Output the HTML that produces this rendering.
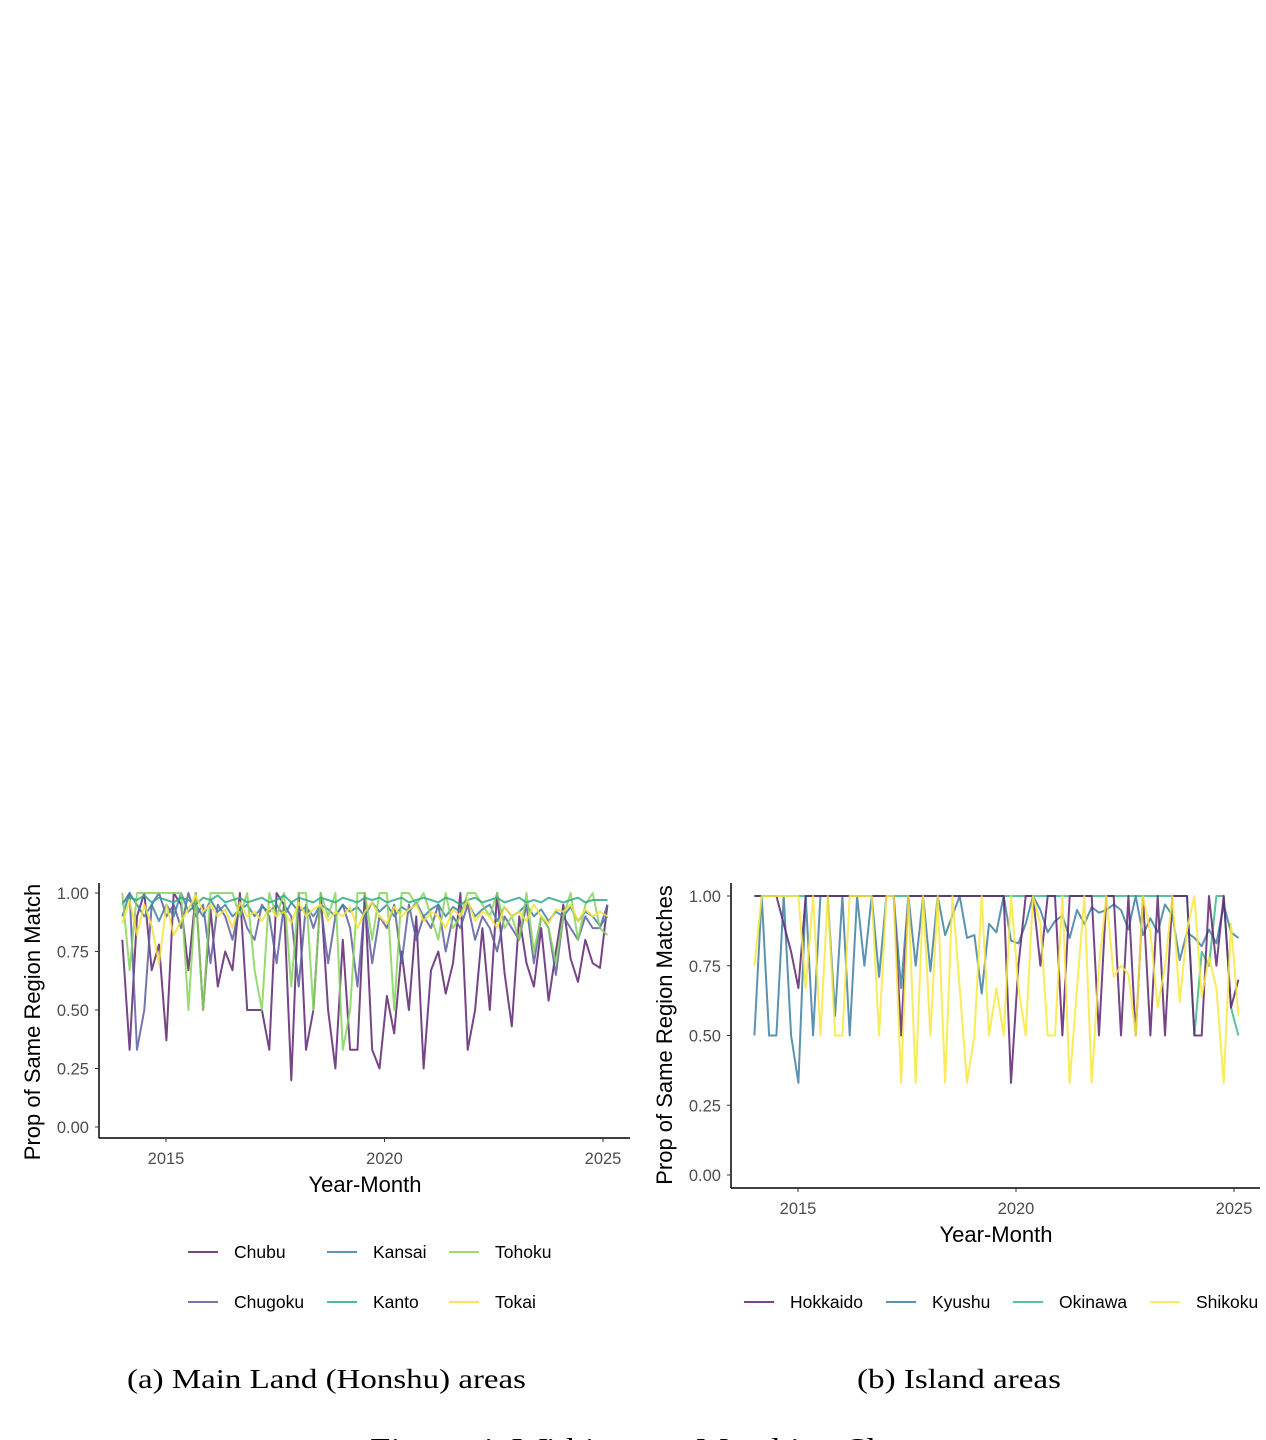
<!DOCTYPE html>
<html><head><meta charset="utf-8"><style>
body{margin:0;background:#fff;width:1266px;height:1440px;overflow:hidden;position:relative;font-family:"Liberation Sans",sans-serif}
svg{position:absolute;left:0;top:0}
</style></head><body>
<svg id="fig" width="1266" height="1440"></svg>
<script>
const NS="http://www.w3.org/2000/svg";
const yearTicks=[2015,2020,2025];
const yTicks=[0,0.25,0.5,0.75,1];
const yTickLabels=["0.00","0.25","0.50","0.75","1.00"];
const startYear=2014.0, endYear=2025.1;
const namesA=["Chubu","Chugoku","Kansai","Kanto","Tohoku","Tokai"];
const chubu=[0.8,0.33,0.9,1,0.67,0.78,0.37,1,0.95,0.67,1,0.5,0.93,0.6,0.75,0.67,1,0.5,0.5,0.5,0.33,1,0.95,0.2,1,0.33,0.5,1,0.5,0.25,0.8,0.33,0.33,1,0.33,0.25,0.56,0.4,0.75,0.5,0.9,0.25,0.67,0.75,0.57,0.7,1,0.33,0.5,0.85,0.5,1,0.66,0.43,0.9,0.7,0.6,0.85,0.54,0.75,0.95,0.72,0.62,0.8,0.7,0.68,0.95];
const chugoku=[0.95,1,0.33,0.5,0.95,1,0.9,0.95,0.85,1,0.9,0.95,0.7,0.95,0.9,0.8,0.95,0.85,0.8,0.95,0.9,0.7,0.95,0.9,0.6,0.95,0.85,0.95,0.7,0.9,0.95,0.85,0.6,0.95,0.7,0.9,0.85,0.95,0.7,0.95,0.8,0.9,0.85,0.95,0.75,0.9,0.85,0.95,0.8,0.9,0.85,0.75,0.9,0.85,0.8,0.95,0.7,0.9,0.85,0.65,0.9,0.85,0.8,0.9,0.85,0.85,0.95];
const kansai=[0.9,1,0.95,0.9,0.95,0.88,0.95,0.9,1,0.92,0.95,0.9,0.97,0.92,0.95,0.9,0.93,0.95,0.9,0.94,0.92,0.95,0.9,0.96,0.92,0.94,0.9,0.95,0.93,0.9,0.95,0.92,0.94,0.9,0.96,0.92,0.95,0.9,0.94,0.92,0.96,0.9,0.93,0.95,0.9,0.94,0.92,0.96,0.9,0.93,0.95,0.88,0.94,0.9,0.92,0.95,0.9,0.93,0.88,0.92,0.9,0.94,0.88,0.92,0.9,0.86,0.9];
const kanto=[0.96,0.98,0.97,0.99,0.96,0.98,0.97,0.96,0.98,0.97,0.95,0.98,0.97,0.99,0.96,0.97,0.98,0.96,0.97,0.98,0.96,0.97,0.99,0.96,0.98,0.97,0.96,0.98,0.97,0.96,0.98,0.97,0.96,0.98,0.97,0.98,0.96,0.97,0.98,0.96,0.97,0.98,0.97,0.96,0.98,0.97,0.95,0.97,0.98,0.96,0.97,0.98,0.96,0.97,0.98,0.96,0.97,0.96,0.98,0.97,0.96,0.97,0.98,0.96,0.97,0.97,0.97];
const tohoku=[1,0.67,1,1,1,1,1,1,1,0.5,1,0.5,1,1,1,1,0.9,1,0.67,0.5,1,0.9,1,0.6,1,1,0.5,1,0.9,1,0.33,0.5,1,1,0.8,1,1,0.5,1,1,0.95,1,0.9,0.8,1,0.85,0.9,1,1,0.95,0.9,1,0.85,0.9,0.8,1,0.75,0.9,0.85,0.7,0.9,1,0.8,0.95,1,0.85,0.82];
const tokai=[0.87,0.97,0.82,0.95,0.86,0.7,0.95,0.82,0.88,0.93,0.99,0.92,0.95,0.9,0.93,0.85,0.96,0.9,0.92,0.88,0.94,0.9,0.92,0.87,0.96,0.9,0.93,0.95,0.88,0.92,0.9,0.94,0.85,0.92,0.96,0.9,0.87,0.94,0.9,0.93,0.95,0.88,0.92,0.9,0.85,0.93,0.9,0.97,0.88,0.92,0.9,0.85,0.94,0.9,0.92,0.88,0.95,0.9,0.87,0.93,0.92,0.95,0.88,0.93,0.9,0.92,0.9];
const namesB=["Hokkaido","Kyushu","Okinawa","Shikoku"];
const hokkaido=[1,1,1,1,0.9,0.8,0.67,1,1,1,1,1,1,1,1,1,1,1,1,1,0.5,1,1,1,1,1,1,1,1,1,1,1,1,1,1,0.33,0.75,1,1,0.75,1,1,0.5,1,1,1,1,0.5,1,1,0.5,1,0.5,1,0.5,1,0.5,1,1,1,0.5,0.5,1,0.75,1,0.6,0.7];
const kyushu=[0.5,1,0.5,0.5,1,0.5,0.33,1,0.5,1,1,0.57,1,0.5,1,0.75,1,0.71,1,1,0.67,1,0.75,1,0.73,1,0.86,0.93,1,0.85,0.86,0.65,0.9,0.87,1,0.84,0.83,0.9,1,0.95,0.87,0.91,0.93,0.85,0.95,0.9,0.96,0.94,0.95,0.97,0.95,0.88,1,0.86,0.92,0.87,0.97,0.93,0.77,0.87,0.85,0.82,0.88,0.83,0.97,0.87,0.85];
const okinawa=[1,1,1,1,1,1,1,1,1,1,1,1,1,1,1,1,1,1,1,1,1,1,1,1,1,1,1,1,1,1,1,1,1,1,1,1,1,1,1,1,1,1,1,1,1,1,1,1,1,1,1,1,1,1,1,1,1,1,1,1,0.5,0.8,0.75,1,1,0.6,0.5];
const shikoku=[0.75,1,1,1,1,1,1,0.67,1,0.5,1,0.5,0.5,1,1,1,1,0.5,1,1,0.33,1,0.33,1,0.5,1,0.33,1,0.67,0.33,0.5,1,0.5,0.67,0.5,1,0.67,0.5,1,0.9,0.5,0.5,1,0.33,0.67,1,0.33,0.75,1,0.71,0.75,0.72,0.5,1,0.87,0.6,0.75,1,0.62,0.88,1,0.64,0.78,0.67,0.33,0.9,0.57];

const svg=document.getElementById('fig');
function el(tag,attrs,parent){const e=document.createElementNS(NS,tag);for(const k in attrs)e.setAttribute(k,attrs[k]);(parent||svg).appendChild(e);return e;}
function txt(s,attrs,parent){const t=el('text',attrs,parent);t.textContent=s;return t;}

function panel(cfg){
  const g=el('g',{});
  
  
  const xS=v=>cfg.x0+(v-2015)*(cfg.x1-cfg.x0)/10;
  const Y=v=>cfg.yTop+(1-v)*(cfg.yBot-cfg.yTop);
  cfg.series.forEach(s=>{
    const n=s.vals.length;
    const pts=s.vals.map((v,i)=>{const d=startYear+i*(endYear-startYear)/(n-1);return xS(d).toFixed(1)+','+Y(v).toFixed(1);}).join(' ');
    const p=el('polyline',{points:pts,fill:'none',stroke:s.color,'stroke-width':2,'stroke-opacity':0.85,'stroke-linejoin':'round'},g);
    
    
  });
  const ya=el('line',{x1:cfg.ax,y1:cfg.axTop,x2:cfg.ax,y2:cfg.axY,stroke:'#000','stroke-width':1.5},g);
  
  
  const xa=el('line',{x1:cfg.ax,y1:cfg.axY,x2:cfg.axRight,y2:cfg.axY,stroke:'#000','stroke-width':1.5},g);
  
  
  yTicks.forEach((v,i)=>{
    el('line',{x1:cfg.ax-4,x2:cfg.ax,y1:Y(v),y2:Y(v),stroke:'#333'},g);
    const t=txt(yTickLabels[i],{x:cfg.ax-10,y:Y(v)+6,'text-anchor':'end','font-size':16.5,fill:'#4d4d4d'},g);
    
    
  });
  yearTicks.forEach(v=>{
    el('line',{x1:xS(v),x2:xS(v),y1:cfg.axY,y2:cfg.axY+4,stroke:'#333'},g);
    const t=txt(String(v),{x:xS(v),y:cfg.axY+26,'text-anchor':'middle','font-size':16.5,fill:'#4d4d4d'},g);
    
    
  });
  const xt=txt('Year-Month',{x:cfg.xTitleX,y:cfg.axY+54,'text-anchor':'middle','font-size':22,fill:'#000'},g);
  
  
  const yt=txt(cfg.ytitle,{x:0,y:0,'text-anchor':'middle','font-size':22,fill:'#000',transform:`translate(${cfg.yTitleX},${cfg.yTitleY}) rotate(-90)`},g);
  
  
  cfg.legend.forEach(L=>{
    const lg=el('g',{},g);
    
    
    el('line',{x1:L.x,x2:L.x+30,y1:L.y,y2:L.y,stroke:L.color,'stroke-width':2,'stroke-opacity':0.85},lg);
    txt(L.name,{x:L.x+46,y:L.y+6,'font-size':17.5,fill:'#000'},lg);
  });
}
const cA={Chubu:'#5e2470',Chugoku:'#5c5e9f',Kansai:'#3f83a3',Kanto:'#2fab88',Tohoku:'#86d55b',Tokai:'#f6e23a'};
panel({id:'panel-a-mainland',x0:166,x1:603,yTop:893,yBot:1127,ax:99,axTop:883,axY:1138,axRight:630,xTitleX:365,
  ytitle:'Prop of Same Region Match',yTitleX:40,yTitleY:1022,
  series:[['Chubu',chubu],['Chugoku',chugoku],['Kansai',kansai],['Tohoku',tohoku],['Kanto',kanto],['Tokai',tokai]].map(a=>({name:a[0],vals:a[1],color:cA[a[0]]})),
  legend:[{name:'Chubu',x:188,y:1252},{name:'Chugoku',x:188,y:1302},{name:'Kansai',x:327,y:1252},{name:'Kanto',x:327,y:1302},{name:'Tohoku',x:449,y:1252},{name:'Tokai',x:449,y:1302}].map(l=>({...l,color:cA[l.name]}))
});
const cB={Hokkaido:'#5e2470',Kyushu:'#3f7fa3',Okinawa:'#3bb884',Shikoku:'#f8e73c'};
panel({id:'panel-b-islands',x0:798,x1:1234,yTop:896,yBot:1175,ax:731,axTop:883,axY:1188,axRight:1260,xTitleX:996,
  ytitle:'Prop of Same Region Matches',yTitleX:672,yTitleY:1035,
  series:[['Okinawa',okinawa],['Kyushu',kyushu],['Hokkaido',hokkaido],['Shikoku',shikoku]].map(a=>({name:a[0],vals:a[1],color:cB[a[0]]})),
  legend:[{name:'Hokkaido',x:744,y:1302},{name:'Kyushu',x:886,y:1302},{name:'Okinawa',x:1013,y:1302},{name:'Shikoku',x:1150,y:1302}].map(l=>({...l,color:cB[l.name]}))
});
const ca=txt('(a) Main Land (Honshu) areas',{x:127,y:1388,'font-size':27,textLength:399,lengthAdjust:'spacingAndGlyphs','font-family':'Liberation Serif, serif',fill:'#000'});


const cb=txt('(b) Island areas',{x:857,y:1388,'font-size':27,textLength:204,lengthAdjust:'spacingAndGlyphs','font-family':'Liberation Serif, serif',fill:'#000'});


const fc=txt('Figure 4: Within-area Matching Share',{x:370,y:1458,'font-size':28,textLength:560,lengthAdjust:'spacingAndGlyphs','font-family':'Liberation Serif, serif',fill:'#000'});


</script>
</body></html>
